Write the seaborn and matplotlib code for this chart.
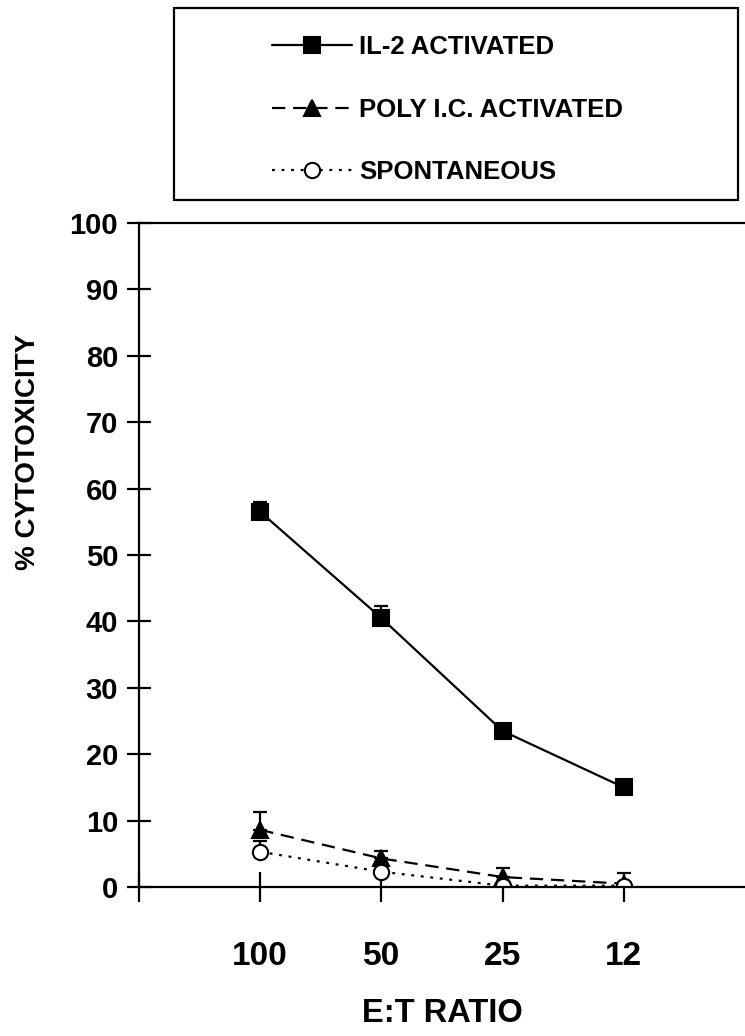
import numpy as np
import matplotlib
matplotlib.use("Agg")
import matplotlib.pyplot as plt
import seaborn as sns
from matplotlib import font_manager
from matplotlib.patches import Rectangle

# values
ratios = ["100", "50", "25", "12"]
il2 = [56.5, 40.5, 23.5, 15.0]
il2_err = [1.5, 1.8, 0.8, 0.8]
poly = [8.6, 4.3, 1.5, 0.5]
poly_err = [2.7, 1.1, 1.4, 1.6]
spont = [5.3, 2.3, 0.2, 0.2]
spont_err = [1.7, 0.8, 0.5, 0.5]
labels = ["IL-2 ACTIVATED", "POLY I.C. ACTIVATED", "SPONTANEOUS"]

sns.set_style("white")
plt.rcParams["font.family"] = ["Liberation Sans", "DejaVu Sans"]
plt.rcParams["font.weight"] = "bold"
plt.rcParams["text.color"] = "black"

fig = plt.figure(figsize=(7.45, 10.36), dpi=100)
ax = fig.add_axes([139 / 745, 149 / 1036, 606 / 745, 664 / 1036])

pos = np.arange(len(ratios))
series = [
    (il2, il2_err, "s", "black", "-", 11),
    (poly, poly_err, "^", "black", (0, (6, 3.5)), 12),
    (spont, spont_err, "o", "white", (0, (1.3, 3)), 11),
]
handles = []
for (vals, err, mk, face, ls, ms), lab in zip(series, labels):
    # upward-only error bars
    ax.errorbar(pos, vals, yerr=[np.zeros(len(vals)), err], fmt="none",
                ecolor="black", elinewidth=1.6, capsize=4.8, capthick=1.6, zorder=1)
    sns.lineplot(x=pos, y=vals, ax=ax, color="black", marker=mk, markersize=ms,
                 markerfacecolor=face, markeredgecolor="black", markeredgewidth=1.5,
                 linewidth=1.6, linestyle=ls, label=lab, zorder=2)
    handles.append(ax.lines[-1])
ax.get_legend().remove()

ax.set_xlim(-1, 4)
ax.set_ylim(0, 100)
ax.set_yticks(range(0, 101, 10))
ax.set_xticks([-1, 0, 1, 2, 3])
ax.set_xticklabels([""] + ratios)
ax.set_xlabel("")
ax.set_ylabel("")
for side in ["left", "bottom", "top"]:
    ax.spines[side].set_linewidth(1.6)
    ax.spines[side].set_color("black")
ax.spines["right"].set_visible(False)
ax.tick_params(axis="y", left=True, direction="inout", length=17, width=1.6, pad=6.5,
               labelsize=21, colors="black")
ax.tick_params(axis="x", bottom=True, direction="inout", length=22, width=1.6, pad=28,
               labelsize=24, colors="black")
for t in ax.get_xticklabels() + ax.get_yticklabels():
    t.set_fontweight("bold")

fig.text(28 / 745, 1 - 452 / 1036, "% CYTOTOXICITY", rotation=90, ha="center",
         va="center", fontsize=20, fontweight="bold", color="black")
fig.text(442 / 745, 1 - 1014 / 1036, "E:T RATIO", ha="center", va="center",
         fontsize=23.5, fontweight="bold", color="black")

leg_font = font_manager.FontProperties(family=["Liberation Sans", "DejaVu Sans"],
                                       weight="bold", size=18.5)
leg = fig.legend(handles, labels, loc="upper left",
                 bbox_to_anchor=(272 / 745, 1 - 35 / 1036),
                 frameon=False, prop=leg_font, handlelength=3.1, handletextpad=0.3,
                 labelspacing=1.5, borderpad=0, borderaxespad=0)
for txt in leg.get_texts():
    txt.set_color("black")
fig.patches.append(Rectangle((174 / 745, 1 - 200 / 1036), 564 / 745, 192 / 1036,
                             transform=fig.transFigure, fill=False, lw=1.6,
                             edgecolor="black"))

fig.savefig("out.png", dpi=100)
